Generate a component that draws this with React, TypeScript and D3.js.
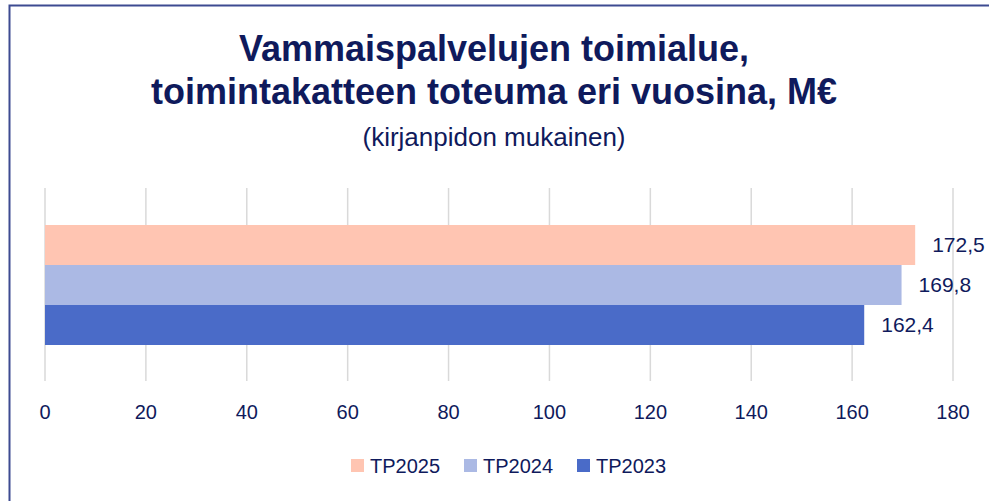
import * as d3 from "d3";
import { useEffect, useRef } from "react";

const series = ["TP2025", "TP2024", "TP2023"];
const values = [172.5, 169.8, 162.4];
const colors = ["#ffc5b2", "#abb9e4", "#4a6bc8"];
const ticks = [0, 20, 40, 60, 80, 100, 120, 140, 160, 180];
const titleLines = ["Vammaispalvelujen toimialue,", "toimintakatteen toteuma eri vuosina, M€"];
const subtitle = "(kirjanpidon mukainen)";

const W = 989;
const H = 501;
const navy = "#0f1a5c";
const font = "'Liberation Sans', Arial, sans-serif";

const App = () => {
  const ref = useRef<SVGSVGElement>(null);

  useEffect(() => {
    const svg = d3.select(ref.current);
    svg.selectAll("*").remove();

    // frame
    svg
      .append("path")
      .attr("d", `M9.5,${H} L9.5,5.5 L${W},5.5`)
      .attr("fill", "none")
      .attr("stroke", "#3d4b91")
      .attr("stroke-width", 2);

    // titles
    svg
      .selectAll(".title")
      .data(titleLines)
      .enter()
      .append("text")
      .attr("class", "title")
      .attr("x", 494)
      .attr("y", (d, i) => 61 + i * 43)
      .attr("text-anchor", "middle")
      .style("font-family", font)
      .style("font-weight", "bold")
      .style("font-size", "36px")
      .attr("fill", navy)
      .text((d) => d);

    svg
      .append("text")
      .attr("x", 494)
      .attr("y", 146)
      .attr("text-anchor", "middle")
      .style("font-family", font)
      .style("font-size", "26px")
      .attr("fill", navy)
      .text(subtitle);

    const x = d3.scaleLinear().domain([0, 180]).range([45, 953]);
    const y = d3.scaleBand().domain(series).range([225, 345]);

    // gridlines
    svg
      .selectAll(".grid")
      .data(ticks)
      .enter()
      .append("line")
      .attr("x1", (d) => x(d))
      .attr("x2", (d) => x(d))
      .attr("y1", 188)
      .attr("y2", 381)
      .attr("stroke", "#d9d9d9")
      .attr("stroke-width", 1.5);

    // bars
    svg
      .selectAll(".bar")
      .data(values)
      .enter()
      .append("rect")
      .attr("x", x(0))
      .attr("y", (d, i) => y(series[i]) as number)
      .attr("width", (d) => x(d) - x(0))
      .attr("height", y.bandwidth())
      .attr("fill", (d, i) => colors[i]);

    // value labels
    svg
      .selectAll(".val")
      .data(values)
      .enter()
      .append("text")
      .attr("x", (d) => x(d) + 17)
      .attr("y", (d, i) => (y(series[i]) as number) + y.bandwidth() / 2)
      .attr("dy", "0.35em")
      .style("font-family", font)
      .style("font-size", "21px")
      .attr("fill", navy)
      .text((d) => d3.format(".1f")(d).replace(".", ","));

    // tick labels
    svg
      .selectAll(".tick")
      .data(ticks)
      .enter()
      .append("text")
      .attr("x", (d) => x(d))
      .attr("y", 412)
      .attr("dy", "0.35em")
      .attr("text-anchor", "middle")
      .style("font-family", font)
      .style("font-size", "20px")
      .attr("fill", navy)
      .text((d) => d);

    // legend
    const legendX = [351, 464, 577];
    const lg = svg
      .selectAll(".legend")
      .data(series)
      .enter()
      .append("g")
      .attr("transform", (d, i) => `translate(${legendX[i]},459)`);
    lg.append("rect")
      .attr("width", 13)
      .attr("height", 13)
      .attr("fill", (d, i) => colors[i]);
    lg.append("text")
      .attr("x", 19)
      .attr("y", 6.5)
      .attr("dy", "0.35em")
      .style("font-family", font)
      .style("font-size", "20px")
      .attr("fill", navy)
      .text((d) => d);
  }, []);

  return (
    <svg
      ref={ref}
      width={W}
      height={H}
      style={{ position: "absolute", left: 0, top: 0, background: "#fff" }}
    ></svg>
  );
};

export default App;
